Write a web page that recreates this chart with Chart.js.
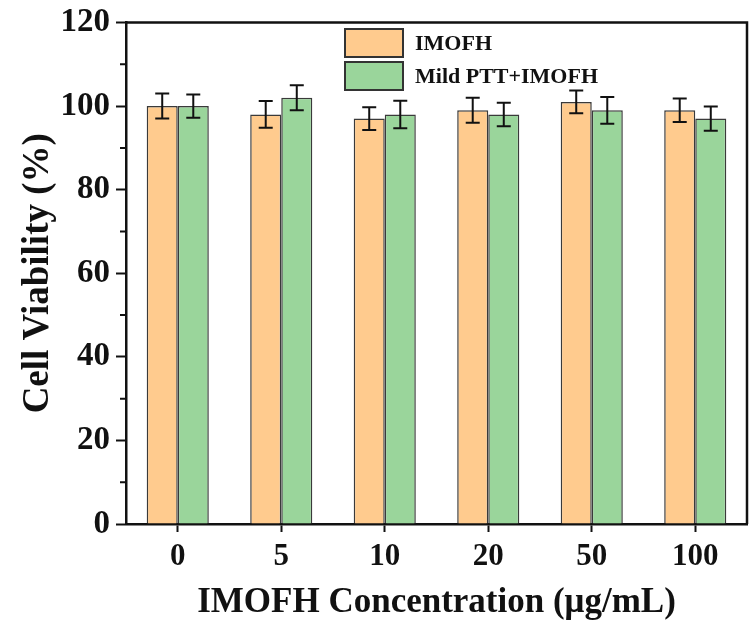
<!DOCTYPE html>
<html lang="en">
    <head>
        <meta charset="UTF-8" />
        <title>Cell viability</title>
        <script src="https://cdn.jsdelivr.net/npm/chart.js"></script>
        <style>
            html, body { margin: 0; padding: 0; background: #fff; }
            .chartContainer { width: 749px; height: 626px; }
        </style>
    </head>
    <body>
        <div class="chartContainer">
            <canvas id="viabilityChart" width="749" height="626"></canvas>
        </div>

        <script>
            // data
            const concentrations = ['0', '5', '10', '20', '50', '100'];
            const imofh = [100, 98, 97, 99, 101, 99];
            const imofhErr = [3, 3.2, 2.7, 3, 2.7, 2.8];
            const ptt = [100, 102, 98, 98, 99, 97];
            const pttErr = [2.8, 3, 3.3, 2.8, 3.2, 2.9];
            const yTicks = [0, 20, 40, 60, 80, 100, 120];
            const yMinorTicks = [10, 30, 50, 70, 90, 110];

            const serif = "'Liberation Serif', 'Times New Roman', serif";
            const ink = '#111';

            // error bars, drawn on top of each bar
            const errorBars = {
                id: 'errorBars',
                afterDatasetsDraw(chart) {
                    const ctx = chart.ctx;
                    const y = chart.scales.y;
                    ctx.save();
                    ctx.strokeStyle = ink;
                    ctx.lineWidth = 2;
                    chart.data.datasets.forEach((ds, i) => {
                        const meta = chart.getDatasetMeta(i);
                        meta.data.forEach((bar, j) => {
                            const v = ds.data[j];
                            const e = ds.errors[j];
                            const top = y.getPixelForValue(v + e);
                            const bot = y.getPixelForValue(v - e);
                            ctx.beginPath();
                            ctx.moveTo(bar.x, top);
                            ctx.lineTo(bar.x, bot);
                            ctx.moveTo(bar.x - 7, top);
                            ctx.lineTo(bar.x + 7, top);
                            ctx.moveTo(bar.x - 7, bot);
                            ctx.lineTo(bar.x + 7, bot);
                            ctx.stroke();
                        });
                    });
                    ctx.restore();
                }
            };

            // box frame + minor ticks + legend
            const frame = {
                id: 'frame',
                afterDraw(chart) {
                    const ctx = chart.ctx;
                    const a = chart.chartArea;
                    const y = chart.scales.y;
                    ctx.save();
                    ctx.strokeStyle = ink;
                    ctx.lineWidth = 2.5;
                    ctx.beginPath();
                    ctx.moveTo(a.left, a.top);
                    ctx.lineTo(a.right, a.top);
                    ctx.lineTo(a.right, a.bottom);
                    ctx.stroke();

                    ctx.lineWidth = 2;
                    ctx.beginPath();
                    yMinorTicks.forEach(v => {
                        const py = y.getPixelForValue(v);
                        ctx.moveTo(a.left, py);
                        ctx.lineTo(a.left - 6, py);
                    });
                    ctx.stroke();

                    // legend
                    ctx.font = 'bold 22px ' + serif;
                    ctx.textBaseline = 'middle';
                    ctx.textAlign = 'left';
                    chart.data.datasets.forEach((ds, i) => {
                        const bx = 345, by = 29 + i * 33;
                        ctx.fillStyle = ds.backgroundColor;
                        ctx.fillRect(bx, by, 58, 28);
                        ctx.strokeStyle = '#333';
                        ctx.strokeRect(bx, by, 58, 28);
                        ctx.fillStyle = ink;
                        ctx.fillText(ds.label, 415, by + 15);
                    });
                    ctx.restore();
                }
            };

            const ctx = document.getElementById('viabilityChart').getContext('2d');
            new Chart(ctx, {
                type: 'bar',
                data: {
                    labels: concentrations,
                    datasets: [
                        {
                            label: 'IMOFH',
                            data: imofh,
                            errors: imofhErr,
                            backgroundColor: '#FFCB8E',
                            borderColor: '#3a3a3a',
                            borderWidth: 1.5
                        },
                        {
                            label: 'Mild PTT+IMOFH',
                            data: ptt,
                            errors: pttErr,
                            backgroundColor: '#9AD59B',
                            borderColor: '#3a3a3a',
                            borderWidth: 1.5
                        }
                    ]
                },
                options: {
                    responsive: false,
                    animation: false,
                    layout: { padding: { top: 22, right: 2, bottom: 0, left: 0 } },
                    datasets: { bar: { categoryPercentage: 0.6, barPercentage: 1.0 } },
                    plugins: {
                        legend: { display: false },
                        tooltip: { enabled: false }
                    },
                    scales: {
                        x: {
                            afterFit(scale) { scale.height = 102; },
                            grid: { offset: false, drawOnChartArea: false, drawTicks: true, tickLength: 8, color: ink, tickWidth: 2 },
                            border: { display: true, color: ink, width: 2.5 },
                            ticks: { color: ink, padding: 6, font: { family: serif, size: 31, weight: 'bold' } },
                            title: {
                                display: true,
                                text: 'IMOFH Concentration (μg/mL)',
                                color: ink,
                                padding: { top: 0, bottom: 2 },
                                font: { family: serif, size: 35, weight: 'bold' }
                            }
                        },
                        y: {
                            min: 0,
                            max: 120,
                            afterFit(scale) { scale.width = 126; },
                            afterBuildTicks(scale) {
                                scale.ticks = yTicks.map(v => ({ value: v }));
                            },
                            grid: { drawOnChartArea: false, drawTicks: true, tickLength: 10, color: ink, tickWidth: 2 },
                            border: { display: true, color: ink, width: 2.5 },
                            ticks: { color: ink, padding: 6, font: { family: serif, size: 33, weight: 'bold', lineHeight: 1 } },
                            title: {
                                display: true,
                                text: 'Cell Viability (%)',
                                color: ink,
                                padding: { top: 16, bottom: 0 },
                                font: { family: serif, size: 37, weight: 'bold' }
                            }
                        }
                    }
                },
                plugins: [errorBars, frame]
            });
        </script>
    </body>
</html>
